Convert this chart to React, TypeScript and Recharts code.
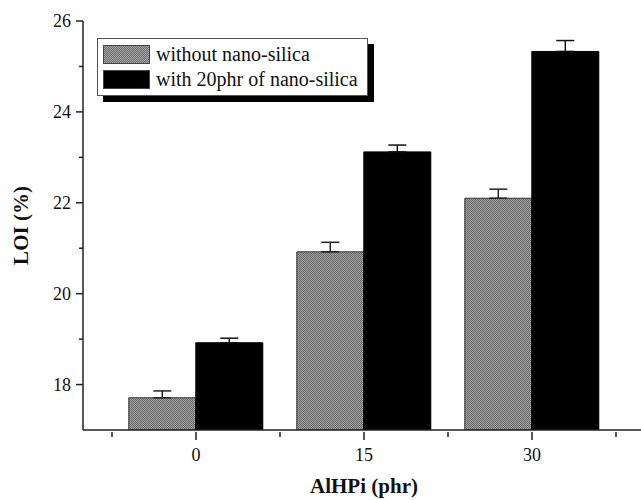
import React from "react";
import { ComposedChart, Bar, ErrorBar, XAxis, YAxis } from "recharts";

const categories = ["0", "15", "30"];
const withoutSilica = [17.71, 20.92, 22.1];
const withoutSilicaErr = [0.15, 0.21, 0.2];
const withSilica = [18.92, 23.12, 25.33];
const withSilicaErr = [0.1, 0.15, 0.24];
const yTicks = [18, 19, 20, 21, 22, 23, 24, 25, 26];
const seriesNames = ["without nano-silica", "with 20phr of nano-silica"];

const data = categories.map((c, i) => ({
  name: c,
  without: withoutSilica[i],
  withoutErr: [0, withoutSilicaErr[i]],
  with: withSilica[i],
  withErr: [0, withSilicaErr[i]],
}));

const FONT = "Liberation Serif, DejaVu Serif, serif";
const AXIS = "#222";

const YTick = (props: any) => {
  const { x, y, payload } = props;
  const major = payload.value % 2 === 0;
  return (
    <g>
      <line x1={x - (major ? 7 : 4)} x2={x} y1={y} y2={y} stroke={AXIS} strokeWidth={1.5} />
      {major && (
        <text x={x - 12} y={y + 6} textAnchor="end" fontSize={18} fontFamily={FONT} fill="#111">
          {payload.value}
        </text>
      )}
    </g>
  );
};

const XTick = (props: any) => {
  const { x, y, payload, index } = props;
  const half = payload.offset || 84;
  return (
    <g>
      <line x1={x} x2={x} y1={y} y2={y + 8} stroke={AXIS} strokeWidth={1.5} />
      <line x1={x - half} x2={x - half} y1={y} y2={y + 5} stroke={AXIS} strokeWidth={1.5} />
      {index === categories.length - 1 && (
        <line x1={x + half} x2={x + half} y1={y} y2={y + 5} stroke={AXIS} strokeWidth={1.5} />
      )}
      <text x={x} y={y + 29} textAnchor="middle" fontSize={18} fontFamily={FONT} fill="#111">
        {payload.value}
      </text>
    </g>
  );
};

const swatch = (bg: string): React.CSSProperties => ({
  display: "inline-block",
  width: 45,
  height: 17,
  marginRight: 6,
  border: "1px solid #444",
  background: bg,
});

const LegendBox = () => (
  <div
    style={{
      position: "absolute",
      left: 97,
      top: 38,
      width: 258,
      border: "1px solid #555",
      background: "#fff",
      boxShadow: "6px 6px 0 #000",
      padding: "3px 6px 3px 5px",
      fontFamily: FONT,
      fontSize: 20,
      color: "#111",
      lineHeight: "25px",
      whiteSpace: "nowrap",
    }}
  >
    <div style={{ display: "flex", alignItems: "center" }}>
      <span style={swatch("repeating-conic-gradient(#6e6e6e 0% 25%, #a4a4a4 0% 50%) 0 0 / 2px 2px")} />
      {seriesNames[0]}
    </div>
    <div style={{ display: "flex", alignItems: "center" }}>
      <span style={swatch("#000")} />
      {seriesNames[1]}
    </div>
  </div>
);

export default function App() {
  return (
    <div style={{ position: "absolute", left: 0, top: 0, width: 641, height: 500, overflow: "hidden", background: "#fff" }}>
      <ComposedChart
        width={700}
        height={500}
        data={data}
        margin={{ top: 21, right: 55, left: 0, bottom: 0 }}
        barCategoryGap="10%"
        barGap={0}
      >
        <defs>
          <pattern id="checker" width="2" height="2" patternUnits="userSpaceOnUse">
            <rect width="2" height="2" fill="#a0a0a0" />
            <rect width="1" height="1" fill="#6a6a6a" />
            <rect x="1" y="1" width="1" height="1" fill="#6a6a6a" />
          </pattern>
        </defs>
        <XAxis
          dataKey="name"
          height={70}
          padding={{ left: 29, right: 29 }}
          axisLine={{ stroke: AXIS, strokeWidth: 1.5 }}
          tickLine={false}
          tickSize={0}
          tick={<XTick />}
          interval={0}
          label={({ viewBox }: any) => (
            <text
              x={viewBox.x + viewBox.width / 2}
              y={viewBox.y + 63}
              textAnchor="middle"
              fontSize={21}
              fontWeight="bold"
              fontFamily={FONT}
              fill="#111"
            >
              AlHPi (phr)
            </text>
          )}
        />
        <XAxis
          xAxisId="top"
          dataKey="name"
          orientation="top"
          height={0}
          tick={false}
          tickLine={false}
          axisLine={{ stroke: AXIS, strokeWidth: 1.5 }}
        />
        <YAxis
          width={83}
          domain={[17, 26]}
          ticks={yTicks}
          allowDataOverflow
          axisLine={{ stroke: AXIS, strokeWidth: 1.5 }}
          tickLine={false}
          tickSize={0}
          tickMargin={0}
          tick={<YTick />}
          interval={0}
          label={({ viewBox }: any) => {
            const cx = viewBox.x + 28;
            const cy = viewBox.y + viewBox.height / 2;
            return (
              <text
                x={cx}
                y={cy}
                transform={`rotate(-90, ${cx}, ${cy})`}
                textAnchor="middle"
                fontSize={21}
                fontWeight="bold"
                fontFamily={FONT}
                fill="#111"
              >
                LOI (%)
              </text>
            );
          }}
        />
        <YAxis
          yAxisId="right"
          orientation="right"
          width={0}
          domain={[17, 26]}
          tick={false}
          tickLine={false}
          axisLine={{ stroke: AXIS, strokeWidth: 1.5 }}
        />
        <Bar
          dataKey="without"
          name={seriesNames[0]}
          fill="url(#checker)"
          stroke="#333"
          strokeWidth={1}
          isAnimationActive={false}
        >
          <ErrorBar dataKey="withoutErr" width={9} stroke="#222" strokeWidth={1.5} />
        </Bar>
        <Bar
          dataKey="with"
          name={seriesNames[1]}
          fill="#000"
          stroke="#000"
          isAnimationActive={false}
        >
          <ErrorBar dataKey="withErr" width={9} stroke="#111" strokeWidth={1.5} />
        </Bar>
      </ComposedChart>
      <LegendBox />
    </div>
  );
}
